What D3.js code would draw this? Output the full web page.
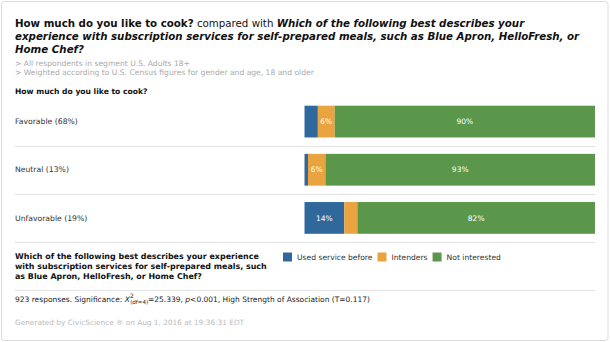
<!DOCTYPE html>
<html>
<head>
<meta charset="utf-8">
<script src="https://cdn.jsdelivr.net/npm/d3@7"></script>
<style>
  body { margin: 0; background: #fff; }
  svg { display: block; font-family: "DejaVu Sans", sans-serif; }
</style>
</head>
<body>
<svg id="chart" width="610" height="342"></svg>
<script>
// row categories (first question) and the series (second question)
var rowLabels = ["Favorable (68%)", "Neutral (13%)", "Unfavorable (19%)"];
var seriesNames = ["Used service before", "Intenders", "Not interested"];
var seriesColors = ["#31689c", "#e9a43f", "#5b974a"];

// percent of each row
var usedBefore    = [4.6, 1.2, 13.7];
var intenders     = [5.8, 6.0, 4.5];
var notInterested = [89.6, 92.8, 81.8];

var titleLines = [
  [["b", "How much do you like to cook?"], ["n", " compared with "], ["bi", "Which of the following best describes your"]],
  [["bi", "experience with subscription services for self-prepared meals, such as Blue Apron, HelloFresh, or"]],
  [["bi", "Home Chef?"]]
];
var notes = ["> All respondents in segment U.S. Adults 18+",
             "> Weighted according to U.S. Census figures for gender and age, 18 and older"];
var rowQuestion = "How much do you like to cook?";
var colQuestion = ["Which of the following best describes your experience",
                   "with subscription services for self-prepared meals, such",
                   "as Blue Apron, HelloFresh, or Home Chef?"];
var footer = "Generated by CivicScience \u00AE on Aug 1, 2016 at 19:36:31 EDT";

var svg = d3.select("#chart");

// card frame
svg.append("rect")
  .attr("x", 1.5).attr("y", 1.5)
  .attr("width", 606.5).attr("height", 339)
  .attr("rx", 3)
  .attr("fill", "#fff")
  .attr("stroke", "#dcdcdc");

// title
var title = svg.append("text")
  .attr("x", 15).attr("y", 26.5)
  .attr("font-size", 10.25)
  .attr("fill", "#111");
titleLines.forEach(function (line, i) {
  line.forEach(function (part, j) {
    var t = title.append("tspan").text(part[1]);
    if (j === 0) t.attr("x", 15).attr("dy", i === 0 ? 0 : 13.2);
    if (part[0] !== "n") t.attr("font-weight", "bold");
    if (part[0] === "bi") t.attr("font-style", "italic");
  });
});

notes.forEach(function (n, i) {
  svg.append("text")
    .attr("x", 15).attr("y", 65.5 + i * 9.7)
    .attr("font-size", 7.6)
    .attr("fill", "#aaa")
    .text(n);
});

svg.append("text")
  .attr("x", 15).attr("y", 94)
  .attr("font-size", 7.6)
  .attr("font-weight", "bold")
  .attr("fill", "#111")
  .text(rowQuestion);

// data table for the stack
var rows = rowLabels.map(function (r, i) {
  var o = { label: r };
  o[seriesNames[0]] = usedBefore[i];
  o[seriesNames[1]] = intenders[i];
  o[seriesNames[2]] = notInterested[i];
  return o;
});
var stacked = d3.stack().keys(seriesNames)(rows);

var y = d3.scaleBand().domain(rowLabels).range([97.5, 242]).padding(0);
var x = d3.scaleLinear().domain([0, 100]).range([304.5, 595]);
var color = d3.scaleOrdinal().domain(seriesNames).range(seriesColors);
var barPad = 8.2;

// row separators
svg.selectAll("line.sep")
  .data(rowLabels)
  .enter().append("line")
  .attr("class", "sep")
  .attr("x1", 15).attr("x2", 595)
  .attr("y1", function (d) { return Math.round(y(d) + y.bandwidth()) + 0.5; })
  .attr("y2", function (d) { return Math.round(y(d) + y.bandwidth()) + 0.5; })
  .attr("stroke", "#e3e3e3");

svg.selectAll("text.rowlab")
  .data(rowLabels)
  .enter().append("text")
  .attr("class", "rowlab")
  .attr("x", 15)
  .attr("y", function (d) { return y(d) + y.bandwidth() / 2; })
  .attr("dy", "0.35em")
  .attr("font-size", 7.7)
  .attr("fill", "#333")
  .text(function (d) { return d; });

var layer = svg.selectAll("g.layer")
  .data(stacked)
  .enter().append("g")
  .attr("class", "layer")
  .attr("fill", function (d) { return color(d.key); });

layer.selectAll("rect")
  .data(function (d) { return d; })
  .enter().append("rect")
  .attr("x", function (d) { return x(d[0]); })
  .attr("width", function (d) { return x(d[1]) - x(d[0]); })
  .attr("y", function (d) { return y(d.data.label) + barPad; })
  .attr("height", y.bandwidth() - 2 * barPad);

layer.selectAll("text")
  .data(function (d) { return d.filter(function (s) { return s[1] - s[0] >= 5; }); })
  .enter().append("text")
  .attr("x", function (d) { return (x(d[0]) + x(d[1])) / 2; })
  .attr("y", function (d) { return y(d.data.label) + y.bandwidth() / 2; })
  .attr("dy", "0.35em")
  .attr("text-anchor", "middle")
  .attr("font-size", 7.5)
  .attr("fill", "#fff")
  .text(function (d) { return Math.round(d[1] - d[0]) + "%"; });

// legend question
colQuestion.forEach(function (l, i) {
  svg.append("text")
    .attr("x", 15).attr("y", 259 + i * 9.9)
    .attr("font-size", 7.95)
    .attr("font-weight", "bold")
    .attr("fill", "#111")
    .text(l);
});

// legend items
var lx = 283;
seriesNames.forEach(function (s) {
  svg.append("rect")
    .attr("x", lx).attr("y", 252.5)
    .attr("width", 9).attr("height", 9)
    .attr("fill", color(s));
  var t = svg.append("text")
    .attr("x", lx + 14).attr("y", 260)
    .attr("font-size", 7.6)
    .attr("fill", "#333")
    .text(s);
  lx += 14 + t.node().getComputedTextLength() + 5;
});

svg.append("line")
  .attr("x1", 15).attr("x2", 595)
  .attr("y1", 290.5).attr("y2", 290.5)
  .attr("stroke", "#e3e3e3");

// significance line
var sig = svg.append("text")
  .attr("x", 15).attr("y", 302)
  .attr("font-size", 7.5)
  .attr("fill", "#222");
sig.append("tspan").text("923 responses. Significance: ");
sig.append("tspan").attr("font-style", "italic").text("X");
sig.append("tspan").attr("font-size", 6).attr("dy", -4).text("2");
sig.append("tspan").attr("font-size", 5.5).attr("dy", 6).attr("dx", -3.5).text("(df=4)");
sig.append("tspan").attr("dy", -2).text("=25.339, ");
sig.append("tspan").attr("font-style", "italic").text("p");
sig.append("tspan").text("<0.001, High Strength of Association (T=0.117)");

svg.append("text")
  .attr("x", 15).attr("y", 324.5)
  .attr("font-size", 7.35)
  .attr("fill", "#bbb")
  .text(footer);
</script>
</body>
</html>
